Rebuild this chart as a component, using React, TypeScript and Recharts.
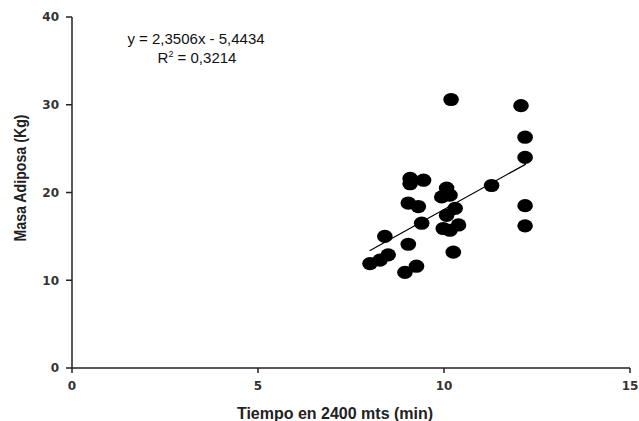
import { ScatterChart, Scatter, XAxis, YAxis } from 'recharts';

// tiempo (min) vs masa adiposa (kg)
const tiempo = [8.01, 8.28, 8.5, 8.41, 8.95, 9.26, 9.04, 9.04, 9.31, 9.09, 9.09, 9.45, 9.4, 10.19, 12.07, 12.18, 12.18, 12.18, 12.18, 11.28, 10.25, 10.07, 10.16, 9.94, 10.3, 10.07, 10.39, 9.98, 10.16];
const masa = [11.9, 12.3, 12.9, 15.0, 10.9, 11.6, 14.1, 18.8, 18.4, 21.6, 21.0, 21.4, 16.5, 30.6, 29.9, 26.3, 24.0, 18.5, 16.2, 20.8, 13.2, 20.5, 19.7, 19.5, 18.2, 17.4, 16.3, 15.9, 15.7];

const xTicks = [0, 5, 10, 15];
const yTicks = [0, 10, 20, 30, 40];

// linea de tendencia
const slope = 2.3506;
const intercept = -5.4434;
const trendX = [8.0, 12.2];

const points = tiempo.map((t, i) => ({ x: t, y: masa[i] }));
const trend = trendX.map((x) => ({ x, y: slope * x + intercept }));

const Dot = (props: any) => {
  const { cx, cy } = props;
  if (cx == null || cy == null) return null;
  return <ellipse cx={cx} cy={cy} rx={7.8} ry={6.6} fill="#000" />;
};

const tickStyle = { fontFamily: 'DejaVu Sans', fontWeight: 'bold', fontSize: 12, fill: '#333' };
const eqStyle = { fontFamily: 'Liberation Sans', fontSize: 15, fill: '#111' };

const App = () => {
  return (
    <div style={{ position: 'absolute', left: 0, top: 0, width: 639, height: 421, background: '#fff' }}>
      <ScatterChart width={639} height={421} margin={{ top: 17, right: 9, left: 32, bottom: 23 }}>
        <XAxis
          type="number"
          dataKey="x"
          domain={[0, 15]}
          ticks={xTicks}
          tick={tickStyle}
          tickSize={5}
          tickMargin={8}
          height={30}
          axisLine={{ stroke: '#222', strokeWidth: 1.5 }}
          tickLine={{ stroke: '#222', strokeWidth: 1.5 }}
        />
        <YAxis
          type="number"
          dataKey="y"
          domain={[0, 40]}
          ticks={yTicks}
          tick={tickStyle}
          tickSize={6}
          tickMargin={7}
          width={40}
          axisLine={{ stroke: '#222', strokeWidth: 1.5 }}
          tickLine={{ stroke: '#222', strokeWidth: 1.5 }}
        />
        <Scatter data={points} shape={<Dot />} isAnimationActive={false} />
        <Scatter
          data={trend}
          line={{ stroke: '#000', strokeWidth: 1.2 }}
          shape={() => <g />}
          isAnimationActive={false}
        />
        <text x={196} y={44} textAnchor="middle" style={eqStyle}>
          y = 2,3506x - 5,4434
        </text>
        <text x={197} y={63} textAnchor="middle" style={eqStyle}>
          R<tspan dy={-6} fontSize={9}>2</tspan><tspan dy={6}> = 0,3214</tspan>
        </text>
        <text
          x={335}
          y={419}
          textAnchor="middle"
          style={{ fontFamily: 'Liberation Sans', fontWeight: 'bold', fontSize: 16, fill: '#222' }}
        >
          Tiempo en 2400 mts (min)
        </text>
        <text
          x={26}
          y={178}
          textAnchor="middle"
          textLength={127}
          lengthAdjust="spacingAndGlyphs"
          transform="rotate(-90 26 178)"
          style={{ fontFamily: 'Liberation Sans', fontWeight: 'bold', fontSize: 16, fill: '#222' }}
        >
          Masa Adiposa (Kg)
        </text>
      </ScatterChart>
    </div>
  );
};

export default App;
